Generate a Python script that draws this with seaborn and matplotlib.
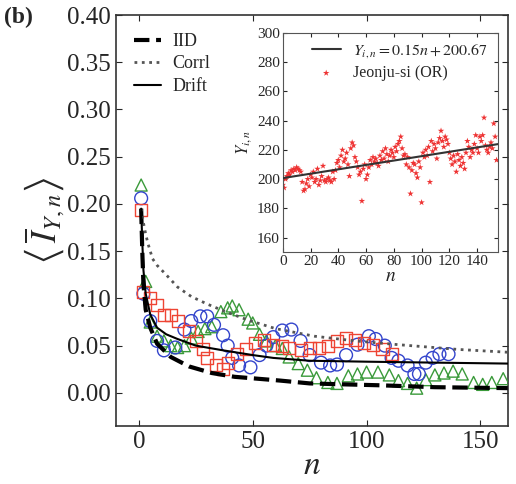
import numpy as np
import pandas as pd
import matplotlib
matplotlib.use('Agg')
import matplotlib.pyplot as plt
import seaborn as sns

# theory curves
iid_n = [1, 1.5, 2, 3, 5, 8, 14, 22, 32, 42, 52, 62, 75, 90, 106, 130, 162]
iid_val = [0.195, 0.150, 0.115, 0.088, 0.069, 0.052, 0.038, 0.028, 0.021, 0.017,
           0.015, 0.013, 0.010, 0.009, 0.008, 0.006, 0.005]
corrl_n = [1, 2, 3, 4, 6, 8, 12, 17, 23, 30, 38, 48, 60, 77, 95, 114, 140, 162]
corrl_val = [0.195, 0.180, 0.168, 0.158, 0.142, 0.135, 0.125, 0.112, 0.102, 0.094,
             0.086, 0.077, 0.068, 0.060, 0.055, 0.051, 0.046, 0.043]
drift_n = [1, 1.5, 2, 3, 5, 8, 12, 17, 25, 37, 50, 59, 75, 100, 130, 162]
drift_val = [0.195, 0.160, 0.130, 0.105, 0.083, 0.069, 0.062, 0.057, 0.050, 0.045,
             0.040, 0.037, 0.034, 0.033, 0.032, 0.031]

# measured series
green_n = [1, 3, 5, 8, 11, 14, 17, 20, 23, 26, 29, 32, 36, 39, 41, 44, 48, 50, 53, 56,
           60, 63, 66, 70, 74, 78, 83, 87, 92, 96, 100, 105, 110, 114, 118, 122, 126,
           130, 134, 138, 142, 147, 151, 155, 160]
green_val = [0.220, 0.118, 0.075, 0.060, 0.055, 0.050, 0.048, 0.050, 0.058, 0.065,
             0.068, 0.070, 0.086, 0.090, 0.092, 0.088, 0.078, 0.074, 0.062, 0.055,
             0.050, 0.047, 0.038, 0.031, 0.024, 0.016, 0.011, 0.010, 0.018, 0.020,
             0.022, 0.022, 0.019, 0.013, 0.010, 0.005, 0.014, 0.019, 0.021, 0.023,
             0.020, 0.011, 0.009, 0.011, 0.015]
blue_n = [1, 2, 5, 8, 11, 16, 20, 23, 27, 30, 33, 37, 39, 41, 44, 49, 53, 56, 59, 63,
          67, 71, 75, 80, 84, 87, 91, 96, 101, 104, 108, 111, 114, 118, 121, 123, 126,
          129, 132, 136]
blue_val = [0.206, 0.105, 0.076, 0.055, 0.045, 0.048, 0.067, 0.076, 0.081, 0.081,
            0.072, 0.061, 0.050, 0.037, 0.029, 0.027, 0.040, 0.050, 0.059, 0.066,
            0.067, 0.055, 0.040, 0.032, 0.029, 0.030, 0.040, 0.051, 0.060, 0.057,
            0.050, 0.037, 0.034, 0.029, 0.020, 0.020, 0.032, 0.037, 0.041, 0.041]
red_n = [1, 2, 5, 8, 11, 14, 17, 22, 25, 28, 30, 34, 37, 39, 43, 47, 51, 55, 59, 63,
         66, 71, 75, 79, 83, 87, 91, 95, 99, 103, 107, 111]
red_val = [0.194, 0.107, 0.100, 0.093, 0.082, 0.082, 0.076, 0.065, 0.055, 0.046,
           0.037, 0.030, 0.025, 0.032, 0.041, 0.046, 0.053, 0.056, 0.051, 0.050,
           0.048, 0.045, 0.048, 0.048, 0.050, 0.055, 0.058, 0.056, 0.053, 0.051,
           0.046, 0.041]

# inset: Jeonju-si observations and linear fit
jeonju = [196, 194, 200, 202, 204, 203, 206, 205, 207, 206,
          208, 207, 206, 205, 198, 192, 193, 197, 200, 195,
          203, 201, 205, 198, 200, 207, 196, 199, 202, 209,
          199, 198, 200, 201, 199, 198, 205, 200, 206, 211,
          213, 208, 216, 220, 212, 214, 218, 210, 202, 221,
          225, 223, 215, 212, 208, 203, 205, 185, 207, 210,
          200, 203, 208, 213, 210, 215, 212, 214, 211, 209,
          216, 213, 219, 214, 221, 217, 212, 216, 220, 218,
          215, 222, 219, 224, 226, 229, 221, 216, 217, 210,
          215, 208, 190, 206, 211, 210, 204, 201, 212, 208,
          184, 218, 215, 220, 216, 222, 198, 226, 219, 224,
          221, 214, 225, 228, 233, 226, 222, 229, 227, 224,
          218, 214, 210, 216, 212, 205, 217, 213, 209, 215,
          211, 207, 218, 226, 222, 215, 220, 218, 224, 230,
          221, 218, 229, 226, 230, 242, 223, 220, 218, 222,
          225, 221, 238, 229, 213]
fit_n = [0, 155]
fit_val = [200.67, 223.92]

sns.set_style('ticks')
plt.rcParams['font.family'] = ['Liberation Serif', 'DejaVu Serif']
plt.rcParams['mathtext.fontset'] = 'stix'
plt.rcParams['xtick.direction'] = 'in'
plt.rcParams['ytick.direction'] = 'in'

fig = plt.figure(figsize=(5.16, 4.84), dpi=100)
ax = fig.add_axes([0.225, 0.12, 0.759, 0.849])

sns.scatterplot(x=green_n, y=green_val, marker='^', s=75, facecolor='none',
                edgecolor='#3a9a3a', linewidth=1.0, ax=ax, zorder=3)
sns.scatterplot(x=blue_n, y=blue_val, marker='o', s=85, facecolor='none',
                edgecolor='#3344cc', linewidth=1.0, ax=ax, zorder=3)
sns.scatterplot(x=red_n, y=red_val, marker='s', s=75, facecolor='none',
                edgecolor='#ee4433', linewidth=1.0, ax=ax, zorder=3)

sns.lineplot(x=iid_n, y=iid_val, color='k', linestyle='--', linewidth=3,
             label='IID', ax=ax, zorder=4)
sns.lineplot(x=corrl_n, y=corrl_val, color='#555555', linestyle=':', linewidth=2,
             label='Corrl', ax=ax, zorder=4)
sns.lineplot(x=drift_n, y=drift_val, color='k', linestyle='-', linewidth=1.5,
             label='Drift', ax=ax, zorder=4)

ax.set_xlim(-10, 162)
ax.set_ylim(-0.035, 0.40)
ax.set_xticks([0, 50, 100, 150])
ax.set_yticks(np.arange(0, 0.401, 0.05))
ax.yaxis.set_major_formatter(plt.FuncFormatter(lambda v, _: f'{v:.2f}'))
ax.tick_params(labelsize=18, top=True, right=True, length=4)
for s in ax.spines.values():
    s.set_color('#333333')
    s.set_linewidth(1.2)
ax.set_xlabel('$n$', fontsize=24, labelpad=-2)
ax.set_ylabel(r'$\left\langle\,\overline{I}_{Y,n}\right\rangle$', fontsize=25, labelpad=0)
ax.legend(loc='upper left', frameon=False, fontsize=13, handlelength=1.5,
          borderaxespad=0.6, labelspacing=0.3, handletextpad=0.6)
fig.text(0.008, 0.952, '(b)', fontsize=17, fontweight='bold')

# inset
ins = fig.add_axes([0.548, 0.479, 0.417, 0.453])
sns.lineplot(x=fit_n, y=fit_val, color='#333333', linewidth=1.5,
             label='$Y_{i,n} = 0.15n + 200.67$', ax=ins, zorder=3)
sns.scatterplot(x=np.arange(len(jeonju)), y=jeonju, marker='*', s=24, color='#ee3333',
                edgecolor='none', label='Jeonju-si (OR)', ax=ins, zorder=2)
ins.set_xlim(0, 155)
ins.set_ylim(150, 300)
ins.set_xticks(range(0, 141, 20))
ins.set_yticks(range(160, 301, 20))
ins.tick_params(labelsize=11, top=True, right=True, length=3, pad=2)
for s in ins.spines.values():
    s.set_color('#555555')
ins.set_xlabel('$n$', fontsize=14, labelpad=0)
ins.set_ylabel('$Y_{i,n}$', fontsize=12, labelpad=2)
ins.legend(loc='upper right', frameon=False, fontsize=11.5, handlelength=1.8,
           borderaxespad=0.2, labelspacing=0.3)

fig.savefig('out.png', dpi=100)
